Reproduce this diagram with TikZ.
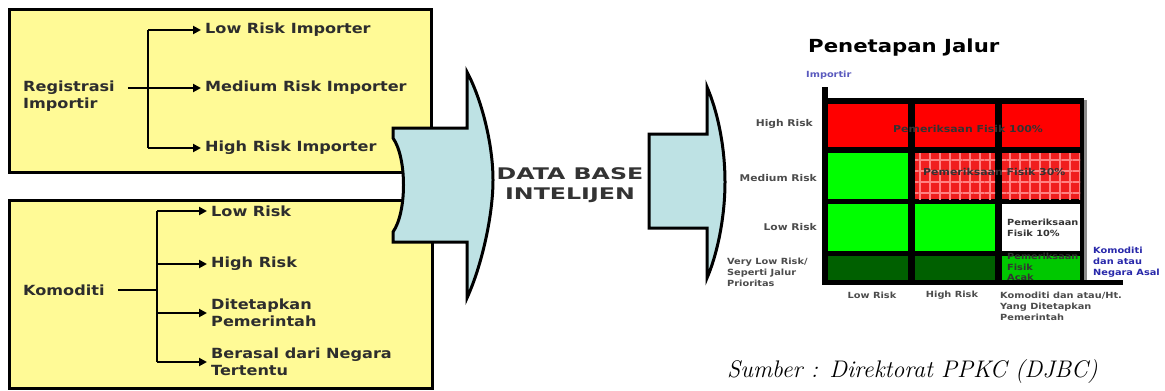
\documentclass[tikz,border=0pt]{standalone}
\usepackage{fontspec}
\usetikzlibrary{arrows.meta,patterns.meta}
\newfontfamily\heavy[FakeStretch=1.15]{DejaVu Sans}
\newfontfamily\dbfont[FakeStretch=1.48]{DejaVu Sans}
\newfontfamily\ttlfont[FakeStretch=1.18]{DejaVu Sans}
\definecolor{boxyellow}{RGB}{255,250,150}
\definecolor{arrowblue}{RGB}{190,226,228}
\definecolor{cellred}{RGB}{255,0,0}
\definecolor{cellred2}{RGB}{240,30,30}
\definecolor{cellpink}{RGB}{255,130,130}
\definecolor{cellgreen}{RGB}{0,255,0}
\definecolor{celldark}{RGB}{0,96,0}
\definecolor{cellmid}{RGB}{0,200,0}
\definecolor{labelblue}{RGB}{40,40,170}
\definecolor{importblue}{RGB}{90,90,190}
\definecolor{txtgray}{RGB}{45,45,45}
\begin{document}
\begin{tikzpicture}[x=1pt,y=-1pt,
  panel/.style={draw=black, line width=3pt, fill=boxyellow},
  bigarrow/.style={draw=black, line width=3pt, fill=arrowblue, line join=miter},
  lbl/.style={font=\heavy\bfseries\fontsize{14}{17.5}\selectfont, text=txtgray, inner sep=4pt, align=left},
  conn/.style={line width=2.5pt, draw=black},
  arr/.style={conn, -{Triangle[length=8pt,width=8pt]}},
  small/.style={font=\heavy\bfseries\fontsize{8.5}{11}\selectfont, text=txtgray!85, inner sep=0pt},
  rowlbl/.style={small, font=\heavy\bfseries\fontsize{9.3}{11}\selectfont},
  celltxt/.style={font=\heavy\bfseries\fontsize{9.5}{10.5}\selectfont, text=black!80, inner sep=0pt, align=left},
]
\useasboundingbox (0,0) rectangle (1165,391);
\fill[white] (0,0) rectangle (1165,391);

% yellow panels
\draw[panel] (9,9) rectangle (431,172);
\draw[panel] (9,200) rectangle (432,388);

% top panel
\node[lbl, anchor=west] (reg) at (19,96) {Registrasi\\Importir};
\node[lbl, anchor=west] (lowimp) at (201,30) {Low Risk Importer};
\node[lbl, anchor=west] (medimp) at (201,88) {Medium Risk Importer};
\node[lbl, anchor=west] (highimp) at (201,148) {High Risk Importer};
\coordinate (regsplit) at (148,88);
\draw[conn] (regsplit |- lowimp.west) -- (regsplit |- highimp.west);
\draw[arr] (regsplit |- lowimp.west) -- (lowimp.west);
\draw[arr] ([xshift=9pt]reg.east |- medimp.west) -- (medimp.west);
\draw[arr] (regsplit |- highimp.west) -- (highimp.west);

% bottom panel
\node[lbl, anchor=west] (kom) at (19,290) {Komoditi};
\coordinate (komsplit) at (157,290);
\node[lbl, anchor=west] (lowrisk) at (207,211) {Low Risk};
\node[lbl, anchor=west] (highrisk) at (207,264) {High Risk};
\node[lbl, anchor=west] (dit) at (207,313) {Ditetapkan\\Pemerintah};
\node[lbl, anchor=west] (ber) at (207,362) {Berasal dari Negara\\Tertentu};
\draw[conn] (komsplit |- lowrisk.west) -- (komsplit |- ber.west);
\draw[conn] ([xshift=9pt]kom.east) -- (komsplit);
\foreach \n in {lowrisk,highrisk,dit,ber} \draw[arr] (komsplit |- \n.west) -- (\n.west);

% big arrows
\draw[bigarrow] (393,128) -- (467,128) -- (467,72)
  .. controls (482,100) and (493,145) .. (493,180)
  .. controls (493,215) and (482,265) .. (467,298)
  -- (467,242) -- (393,242) -- (393,232)
  .. controls (407,212) and (407,158) .. (393,138) -- cycle;
\node[font=\dbfont\bfseries\fontsize{16}{20}\selectfont, align=center, text=black!80] (db) at (570,185) {DATA BASE\\INTELIJEN};
\draw[bigarrow] (649,134) -- (707,134) -- (707,87)
  .. controls (717,110) and (725,145) .. (725,182)
  .. controls (725,218) and (717,255) .. (707,278)
  -- (707,228) -- (649,228) -- cycle;

% title
\node[font=\ttlfont\bfseries\fontsize{18}{20}\selectfont, anchor=west, inner sep=0pt] (title) at (808,48) {Penetapan Jalur};
\node[small, text=importblue, anchor=west] (imp) at (806,75) {Importir};

% grid
\fill[black] (822,87) rectangle (828,285);
\fill[black] (826,98) rectangle (1084,283);
\fill[black!45] (1084,100) rectangle (1087,283);
\fill[black] (822,280) rectangle (1123,285);
% row 1
\fill[cellred] (828,104) rectangle (908,147);
\fill[cellred] (915,104) rectangle (995,147);
\fill[cellred] (1002,104) rectangle (1080,147);
% row 2
\fill[cellgreen] (828,153) rectangle (908,199);
\foreach \xa/\xb in {915/995,1002/1080}{
  \fill[cellred2] (\xa,153) rectangle (\xb,199);
  \path[pattern={Lines[angle=90,distance=10pt,line width=1.5pt]}, pattern color=cellpink] (\xa,153) rectangle (\xb,199);
  \path[pattern={Lines[angle=0,distance=11pt,line width=1.2pt]}, pattern color=cellpink] (\xa,153) rectangle (\xb,199);
}
% row 3
\fill[cellgreen] (828,204) rectangle (908,251);
\fill[cellgreen] (915,204) rectangle (995,251);
\fill[white] (1002,204) rectangle (1080,251);
% row 4
\fill[celldark] (828,256) rectangle (908,280);
\fill[celldark] (915,256) rectangle (995,280);
\fill[cellmid] (1002,256) rectangle (1080,280);

% cell texts
\node[celltxt, anchor=west] (t100) at (893,129) {Pemeriksaan Fisik 100\%};
\node[celltxt, anchor=west] (t30) at (923,172) {Pemeriksaan Fisik 30\%};
\node[celltxt, anchor=north west, font=\heavy\bfseries\fontsize{8.5}{11}\selectfont] (t10) at (1007,219) {Pemeriksaan\\Fisik 10\%};
\node[celltxt, anchor=north west, font=\heavy\bfseries\fontsize{8.5}{10.5}\selectfont] (tacak) at (1007,253) {Pemeriksaan\\Fisik\\Acak};

% axis labels
\node[rowlbl, anchor=east] (rhigh) at (813,124) {High Risk};
\node[rowlbl, anchor=east] (rmed) at (817,178) {Medium Risk};
\node[rowlbl, anchor=east] (rlow) at (817,227) {Low Risk};
\node[small, anchor=north west, align=left] (rvlow) at (727,258) {Very Low Risk/\\Seperti Jalur\\Prioritas};
\node[small] (clow) at (872,295) {Low Risk};
\node[small] (chigh) at (952,295) {High Risk};
\node[small, anchor=north west, align=left] (ckom) at (1000,292) {Komoditi dan atau/Ht.\\Yang Ditetapkan\\Pemerintah};
\node[small, text=labelblue, anchor=north west, align=left] (nasal) at (1093,247) {Komoditi\\dan atau\\Negara Asal};

% source
\node[font=\itshape\fontsize{24}{28}\selectfont, anchor=west, inner sep=0pt] (src) at (727,372) {Sumber : Direktorat PPKC (DJBC)};
\end{tikzpicture}
\end{document}
